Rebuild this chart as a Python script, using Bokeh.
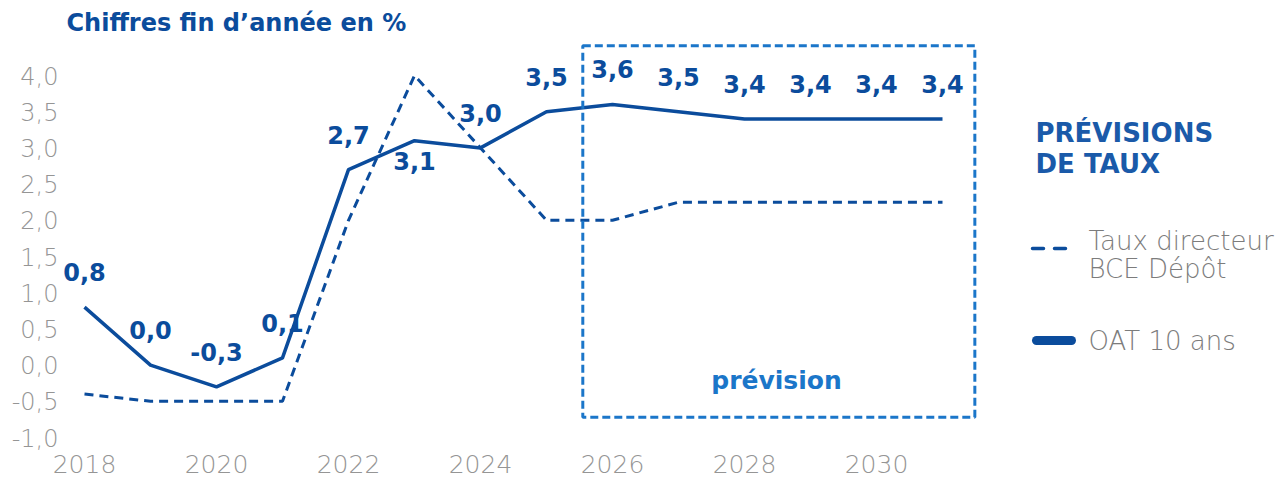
from bokeh.plotting import figure
from bokeh.models import (ColumnDataSource, Range1d, FixedTicker, CustomJSTickFormatter,
                          BoxAnnotation, Label)
from bokeh.core.properties import value
from bokeh.embed import file_html
from bokeh.resources import INLINE

# ---------------- data ----------------
years = [2018, 2019, 2020, 2021, 2022, 2023, 2024, 2025, 2026, 2027, 2028, 2029, 2030, 2031]
oat_10_ans = [0.8, 0.0, -0.3, 0.1, 2.7, 3.1, 3.0, 3.5, 3.6, 3.5, 3.4, 3.4, 3.4, 3.4]
bce_depot = [-0.4, -0.5, -0.5, -0.5, 2.0, 4.0, 3.0, 2.0, 2.0, 2.25, 2.25, 2.25, 2.25, 2.25]
labels_below = [2023]          # years whose value label sits under the point
x_ticks = [2018, 2020, 2022, 2024, 2026, 2028, 2030]
y_ticks = [-1.0, -0.5, 0.0, 0.5, 1.0, 1.5, 2.0, 2.5, 3.0, 3.5, 4.0]
forecast_from, forecast_to = 2025.55, 2031.49
forecast_top, forecast_bottom = 4.41, -0.72

title_txt = "Chiffres fin d\u2019ann\u00e9e en %"
legend_title = ["PR\u00c9VISIONS", "DE TAUX"]
legend_bce = ["Taux directeur", "BCE D\u00e9p\u00f4t"]
legend_oat = "OAT 10 ans"
forecast_txt = "pr\u00e9vision"

# ---------------- style ----------------
DARK = "#0b4c9c"
BOX = "#1b76c9"
TITLE2 = "#1a5aa9"
GRAY_AX = "#959595"
GRAY_LEG = "#7c7c7c"
FONT = "DejaVu Sans"
LIGHT = "'DejaVu Sans Light', 'DejaVu Sans'"

W, H = 1284, 478
FL, FB = 62, 438            # frame left / bottom in pixels
PX_PER_YEAR = 66.0
PX_PER_UNIT = 72.4
x0 = 2018 - (84 - FL) / PX_PER_YEAR
x1 = x0 + (W - FL) / PX_PER_YEAR
ytop = 4.0 + 75 / PX_PER_UNIT
ybot = ytop - FB / PX_PER_UNIT


def px_x(px):
    return x0 + (px - FL) / PX_PER_YEAR


def px_y(py):
    return ytop - py / PX_PER_UNIT


p = figure(width=W, height=H, output_backend="svg", toolbar_location=None,
           x_range=Range1d(x0, x1), y_range=Range1d(ybot, ytop),
           min_border_left=FL, min_border_right=0, min_border_top=0,
           min_border_bottom=H - FB)
p.outline_line_color = None
p.grid.visible = False
p.background_fill_color = "white"
p.border_fill_color = "white"

for ax in (p.xaxis[0], p.yaxis[0]):
    ax.axis_line_color = None
    ax.major_tick_line_color = None
    ax.minor_tick_line_color = None
    ax.major_label_text_color = GRAY_AX
    ax.major_label_text_font = LIGHT
p.xaxis[0].ticker = FixedTicker(ticks=x_ticks)
p.yaxis[0].ticker = FixedTicker(ticks=y_ticks)
p.xaxis[0].major_label_text_font_size = "25px"
p.yaxis[0].major_label_text_font_size = "24px"
p.xaxis[0].major_label_standoff = 10
p.yaxis[0].major_label_standoff = -2
p.yaxis[0].formatter = CustomJSTickFormatter(code="return tick.toFixed(1).replace('.', ',');")

# forecast box
box = BoxAnnotation(left=forecast_from, right=forecast_to, top=forecast_top, bottom=forecast_bottom,
                    fill_alpha=0, line_color=BOX, line_alpha=1, line_width=3, line_dash="8 4")
p.add_layout(box)

src = ColumnDataSource(dict(
    x=years, oat=oat_10_ans, bce=bce_depot,
    lab=[("%.1f" % v).replace(".", ",") for v in oat_10_ans],
    yoff=[20 if yr in labels_below else -35 for yr in years],
))

p.line("x", "bce", source=src, line_color=DARK, line_width=3, line_dash="9 6")
p.line("x", "oat", source=src, line_color=DARK, line_width=3.5, line_join="round")

p.text("x", "oat", text="lab", source=src, y_offset="yoff", text_align="center",
       text_baseline="middle", text_font=value(FONT), text_font_style="bold",
       text_font_size="24px", text_color=DARK)

# title
p.add_layout(Label(x=px_x(66), y=px_y(22), text=title_txt, text_font=FONT, text_font_style="bold",
                   text_font_size="24px", text_color=DARK, text_baseline="middle"))

# forecast label
p.add_layout(Label(x=px_x(776), y=px_y(380), text=forecast_txt, text_font=FONT,
                   text_font_style="bold", text_font_size="25px", text_color=BOX,
                   text_align="center", text_baseline="middle"))

# legend
for i, t in enumerate(legend_title):
    p.add_layout(Label(x=px_x(1035), y=px_y(132 + 31 * i), text=t, text_font=FONT,
                       text_font_style="bold", text_font_size="26px", text_color=TITLE2,
                       text_baseline="middle"))
for i, t in enumerate(legend_bce):
    p.add_layout(Label(x=px_x(1088), y=px_y(240 + 28 * i), text=t, text_font=LIGHT,
                       text_font_size="26px", text_color=GRAY_LEG, text_baseline="middle"))
p.add_layout(Label(x=px_x(1088), y=px_y(340), text=legend_oat, text_font=LIGHT,
                   text_font_size="26px", text_color=GRAY_LEG, text_baseline="middle"))
p.line([px_x(1032), px_x(1066)], [px_y(248), px_y(248)], line_color=DARK, line_width=3.5,
       line_dash="11 11", line_cap="round")
p.line([px_x(1036), px_x(1071)], [px_y(340), px_y(340)], line_color=DARK, line_width=9,
       line_cap="round")

open("out.html", "w").write(file_html(p, INLINE))
